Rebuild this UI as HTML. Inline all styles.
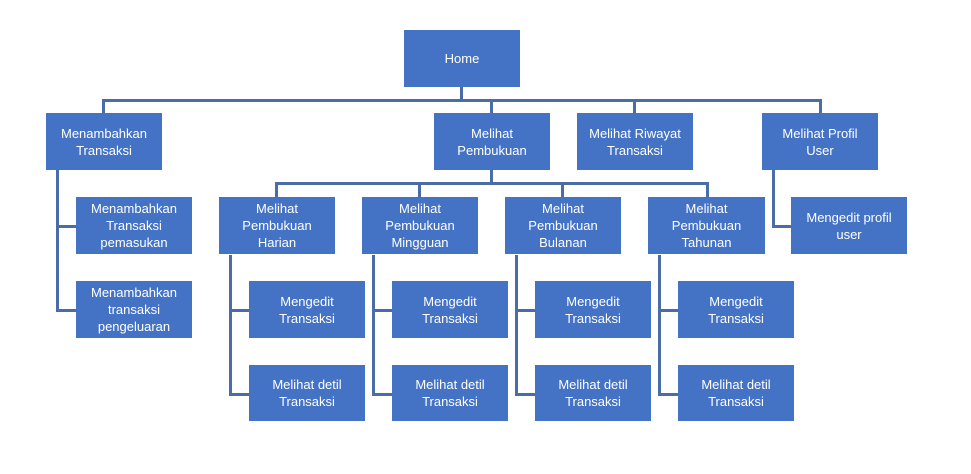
<!DOCTYPE html>
<html><head><style>
body{margin:0;width:971px;height:474px;background:#fff;position:relative;overflow:hidden;font-family:"Liberation Sans",sans-serif}
.b{position:absolute;background:#4472C4;color:#fff;font-size:13px;line-height:17px;display:flex;align-items:center;justify-content:center;text-align:center;width:116px;height:57px}
.l{position:absolute;background:#4A6DA7}
</style></head><body>
<!-- connectors -->
<div class="l" style="left:460px;top:87px;width:3px;height:15px"></div>
<div class="l" style="left:102px;top:99px;width:720px;height:3px"></div>
<div class="l" style="left:102px;top:99px;width:3px;height:14px"></div>
<div class="l" style="left:490px;top:99px;width:3px;height:14px"></div>
<div class="l" style="left:633px;top:99px;width:3px;height:14px"></div>
<div class="l" style="left:819px;top:99px;width:3px;height:14px"></div>
<!-- Menambahkan -->
<div class="l" style="left:56px;top:170px;width:3px;height:141px"></div>
<div class="l" style="left:56px;top:225px;width:20px;height:3px"></div>
<div class="l" style="left:56px;top:309px;width:20px;height:3px"></div>
<!-- Pembukuan -->
<div class="l" style="left:490px;top:170px;width:3px;height:15px"></div>
<div class="l" style="left:275px;top:182px;width:434px;height:3px"></div>
<div class="l" style="left:275px;top:182px;width:3px;height:15px"></div>
<div class="l" style="left:418px;top:182px;width:3px;height:15px"></div>
<div class="l" style="left:561px;top:182px;width:3px;height:15px"></div>
<div class="l" style="left:706px;top:182px;width:3px;height:15px"></div>
<!-- Profil -->
<div class="l" style="left:772px;top:170px;width:3px;height:58px"></div>
<div class="l" style="left:772px;top:225px;width:19px;height:3px"></div>
<!-- level3 stems -->
<div class="l" style="left:229px;top:255px;width:3px;height:140px"></div>
<div class="l" style="left:229px;top:309px;width:20px;height:3px"></div>
<div class="l" style="left:229px;top:393px;width:20px;height:3px"></div>
<div class="l" style="left:372px;top:255px;width:3px;height:140px"></div>
<div class="l" style="left:372px;top:309px;width:20px;height:3px"></div>
<div class="l" style="left:372px;top:393px;width:20px;height:3px"></div>
<div class="l" style="left:515px;top:255px;width:3px;height:140px"></div>
<div class="l" style="left:515px;top:309px;width:20px;height:3px"></div>
<div class="l" style="left:515px;top:393px;width:20px;height:3px"></div>
<div class="l" style="left:658px;top:255px;width:3px;height:140px"></div>
<div class="l" style="left:658px;top:309px;width:20px;height:3px"></div>
<div class="l" style="left:658px;top:393px;width:20px;height:3px"></div>
<!-- boxes -->
<div class="b" style="left:404px;top:30px">Home</div>
<div class="b" style="left:46px;top:113px">Menambahkan<br>Transaksi</div>
<div class="b" style="left:434px;top:113px">Melihat<br>Pembukuan</div>
<div class="b" style="left:577px;top:113px">Melihat Riwayat<br>Transaksi</div>
<div class="b" style="left:762px;top:113px">Melihat Profil<br>User</div>
<div class="b" style="left:76px;top:197px">Menambahkan<br>Transaksi<br>pemasukan</div>
<div class="b" style="left:76px;top:281px">Menambahkan<br>transaksi<br>pengeluaran</div>
<div class="b" style="left:219px;top:197px">Melihat<br>Pembukuan<br>Harian</div>
<div class="b" style="left:362px;top:197px">Melihat<br>Pembukuan<br>Mingguan</div>
<div class="b" style="left:505px;top:197px">Melihat<br>Pembukuan<br>Bulanan</div>
<div class="b" style="left:648px;top:197px;width:117px">Melihat<br>Pembukuan<br>Tahunan</div>
<div class="b" style="left:791px;top:197px">Mengedit profil<br>user</div>
<div class="b" style="left:249px;top:281px">Mengedit<br>Transaksi</div>
<div class="b" style="left:249px;top:365px;height:56px">Melihat detil<br>Transaksi</div>
<div class="b" style="left:392px;top:281px">Mengedit<br>Transaksi</div>
<div class="b" style="left:392px;top:365px;height:56px">Melihat detil<br>Transaksi</div>
<div class="b" style="left:535px;top:281px">Mengedit<br>Transaksi</div>
<div class="b" style="left:535px;top:365px;height:56px">Melihat detil<br>Transaksi</div>
<div class="b" style="left:678px;top:281px">Mengedit<br>Transaksi</div>
<div class="b" style="left:678px;top:365px;height:56px">Melihat detil<br>Transaksi</div>
</body></html>
